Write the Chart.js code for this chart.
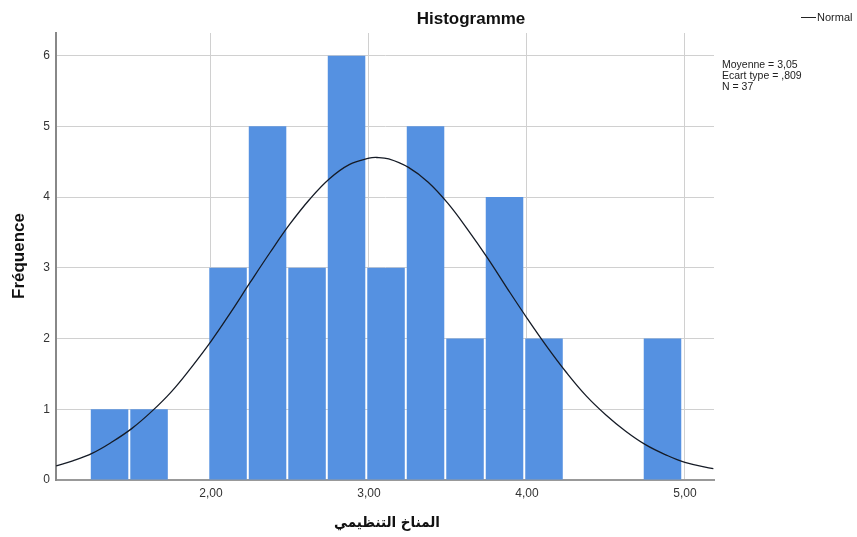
<!DOCTYPE html>
<html><head><meta charset="utf-8">
<script src="https://cdn.jsdelivr.net/npm/chart.js@4"></script>
<style>html,body{margin:0;padding:0;background:#fff;}</style>
</head><body>
<canvas id="c" width="857" height="537"></canvas>
<script>
const binCenters = [1.358,1.608,1.858,2.108,2.358,2.608,2.858,3.108,3.358,3.608,3.858,4.108,4.358,4.608,4.858];
const binCounts  = [1,1,0,3,5,3,6,3,5,2,4,2,0,0,2];
const curveX = [1.02,1.125,1.25,1.375,1.5,1.625,1.75,1.875,2.0,2.125,2.25,2.375,2.5,2.625,2.75,2.875,3.0,3.05,3.125,3.25,3.375,3.5,3.625,3.75,3.875,4.0,4.125,4.25,4.375,4.5,4.625,4.75,4.875,5.0,5.18];
const curveY = [0.2,0.27,0.38,0.54,0.73,0.97,1.25,1.59,1.96,2.37,2.8,3.22,3.62,3.97,4.26,4.46,4.55,4.56,4.54,4.42,4.21,3.91,3.54,3.14,2.71,2.29,1.89,1.52,1.19,0.92,0.69,0.5,0.36,0.25,0.16];
const xTickValues = [2,3,4,5];
const yTickValues = [0,1,2,3,4,5,6];
const titleText = 'Histogramme';
const yTitle = 'Fréquence';
const xTitle = 'المناخ التنظيمي';
const legendLabel = 'Normal';
const statsLines = ['Moyenne = 3,05','Ecart type = ,809','N = 37'];

const textPlugin = {
  id: 'texts',
  afterDraw(chart) {
    const ctx = chart.ctx;
    ctx.save();
    ctx.fillStyle = '#111';
    ctx.textAlign = 'center';
    ctx.textBaseline = 'alphabetic';
    ctx.font = 'bold 17px "Liberation Sans", Arial, sans-serif';
    ctx.fillText(titleText, 471, 24);
    // y title
    ctx.save();
    ctx.translate(24, 256);
    ctx.rotate(-Math.PI/2);
    ctx.font = 'bold 17px "Liberation Sans", Arial, sans-serif';
    ctx.fillText(yTitle, 0, 0);
    ctx.restore();
    // x title
    ctx.font = 'bold 15px "DejaVu Sans Condensed", "DejaVu Sans", sans-serif';
    ctx.textBaseline = 'middle';
    ctx.fillText(xTitle, 387, 523);
    // legend
    ctx.strokeStyle = '#222';
    ctx.lineWidth = 1;
    ctx.beginPath(); ctx.moveTo(801, 17.5); ctx.lineTo(816, 17.5); ctx.stroke();
    ctx.textAlign = 'left';
    ctx.textBaseline = 'middle';
    ctx.font = '11px "Liberation Sans", Arial, sans-serif';
    ctx.fillStyle = '#222';
    ctx.fillText(legendLabel, 817, 18);
    ctx.font = '10.5px "Liberation Sans", Arial, sans-serif';
    ctx.textBaseline = 'alphabetic';
    statsLines.forEach((s,i) => ctx.fillText(s, 722, 68 + i*10.8));
    ctx.restore();
  }
};

new Chart(document.getElementById('c'), {
  type: 'bar',
  data: {
    datasets: [
      {
        type: 'line',
        data: curveX.map((x,i) => ({x: x, y: curveY[i]})),
        borderColor: '#151b26',
        borderWidth: 1.3,
        pointRadius: 0,
        tension: 0.4,
        fill: false,
        order: 0
      },
      {
        type: 'bar',
        data: binCenters.map((x,i) => ({x: x, y: binCounts[i]})),
        backgroundColor: '#5591e1',
        borderWidth: 0,
        barPercentage: 0.95,
        categoryPercentage: 1.0,
        order: 1
      }
    ]
  },
  options: {
    responsive: false,
    animation: false,
    devicePixelRatio: 1,
    layout: { padding: { left: 0, right: 143, top: 33, bottom: 0 } },
    plugins: { legend: { display: false }, title: { display: false }, tooltip: { enabled: false } },
    scales: {
      x: {
        type: 'linear',
        min: 1.019,
        max: 5.184,
        offset: false,
        afterBuildTicks: (s) => { s.ticks = xTickValues.map(v => ({value: v})); },
        afterFit: (s) => { s.height = 57; },
        grid: { color: '#d0d0d0', lineWidth: 1, drawTicks: false, offset: false },
        border: { color: '#999', width: 2 },
        ticks: {
          padding: 6,
          color: '#333',
          font: { family: '"Liberation Sans", Arial, sans-serif', size: 12 },
          callback: (v) => Number(v).toFixed(2).replace('.', ',')
        }
      },
      y: {
        min: 0,
        max: 6.32,
        afterBuildTicks: (s) => { s.ticks = yTickValues.map(v => ({value: v})); },
        afterFit: (s) => { s.width = 56; },
        grid: { color: '#d0d0d0', lineWidth: 1, drawTicks: false },
        border: { color: '#888', width: 2 },
        ticks: {
          padding: 6,
          color: '#333',
          font: { family: '"Liberation Sans", Arial, sans-serif', size: 12 },
          callback: (v) => String(v)
        }
      }
    }
  },
  plugins: [textPlugin]
});
</script>
</body></html>
